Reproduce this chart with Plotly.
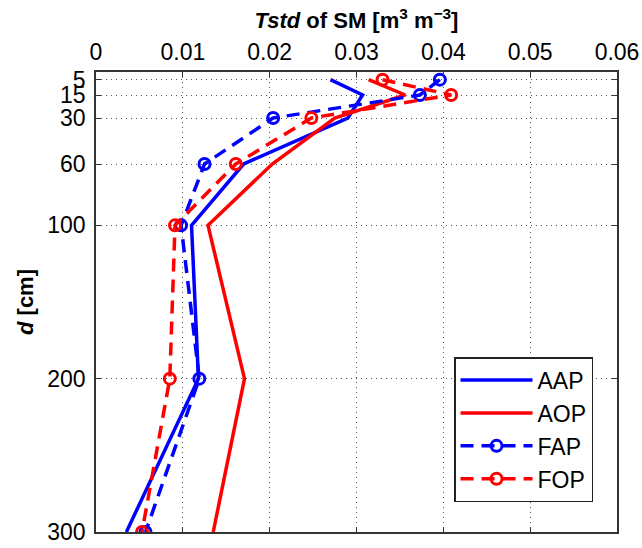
import plotly.graph_objects as go

depth = [5, 15, 30, 60, 100, 200, 300]
AAP = [0.0270, 0.0307, 0.0290, 0.0170, 0.0110, 0.0118, 0.0035]
AOP = [0.0314, 0.0356, 0.0275, 0.0203, 0.0129, 0.0171, 0.0135]
FAP = [0.0396, 0.0373, 0.0204, 0.0125, 0.0098, 0.0119, 0.0057]
FOP = [0.0330, 0.0409, 0.0248, 0.0161, 0.0091, 0.0085, 0.0053]

x_ticks = [0, 0.01, 0.02, 0.03, 0.04, 0.05, 0.06]
x_labels = ["0", "0.01", "0.02", "0.03", "0.04", "0.05", "0.06"]
y_ticks = [5, 15, 30, 60, 100, 200, 300]

BLUE = "#0000FF"
RED = "#FF0000"
LW = 3.5
DASH = "13px,8px"

fig = go.Figure()
fig.add_trace(go.Scatter(x=AAP, y=depth, name="AAP", mode="lines",
                         line=dict(color=BLUE, width=LW)))
fig.add_trace(go.Scatter(x=AOP, y=depth, name="AOP", mode="lines",
                         line=dict(color=RED, width=LW)))
fig.add_trace(go.Scatter(x=FAP, y=depth, name="FAP", mode="lines+markers",
                         line=dict(color=BLUE, width=LW, dash=DASH),
                         marker=dict(symbol="circle-open", size=11, color=BLUE,
                                     line=dict(width=3, color=BLUE))))
fig.add_trace(go.Scatter(x=FOP, y=depth, name="FOP", mode="lines+markers",
                         line=dict(color=RED, width=LW, dash=DASH),
                         marker=dict(symbol="circle-open", size=11, color=RED,
                                     line=dict(width=3, color=RED))))

axis_common = dict(
    showline=True, linecolor="#333333", linewidth=1.5, mirror="allticks",
    ticks="inside", ticklen=5, tickwidth=1.2, tickcolor="#333333",
    showgrid=True, gridcolor="#555555", gridwidth=1, griddash="1px,4px",
    zeroline=False, automargin=False,
    tickfont=dict(family="Liberation Sans, Arial, sans-serif", size=23, color="black"),
)

fig.update_layout(
    width=642, height=548,
    margin=dict(l=96, r=25, t=72, b=16),
    paper_bgcolor="white", plot_bgcolor="white",
    font=dict(family="Liberation Sans, Arial, sans-serif", color="black"),
    xaxis=dict(range=[0, 0.06], side="top", tickvals=x_ticks, ticktext=x_labels,
               ticklabelstandoff=1,
               title=dict(text="<b><i>Tstd</i> of SM [m<sup>3</sup> m<sup>−3</sup>]</b>",
                          font=dict(size=22), standoff=4),
               **axis_common),
    yaxis=dict(range=[300, 0], tickvals=y_ticks, ticktext=[str(v) for v in y_ticks],
               ticklabelstandoff=4,
               title=dict(text="<b><i>d</i> [cm]</b>", font=dict(size=22), standoff=8),
               **axis_common),
    legend=dict(x=0.954, y=0.065, xanchor="right", yanchor="bottom",
                bgcolor="white", bordercolor="#222222", borderwidth=1.5,
                font=dict(size=23), itemwidth=72, tracegroupgap=0),
    showlegend=True,
)

fig.write_html("out.html")
